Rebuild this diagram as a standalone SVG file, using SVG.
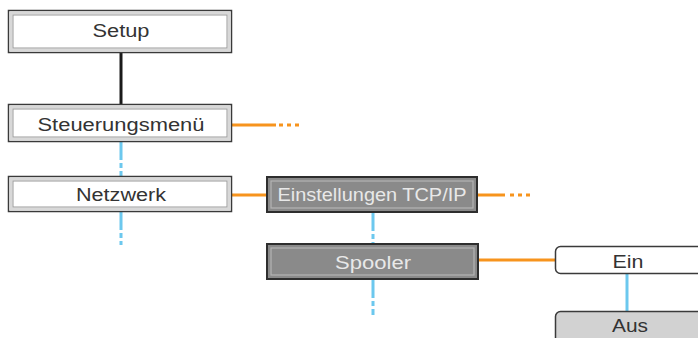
<svg xmlns="http://www.w3.org/2000/svg" width="698" height="338" viewBox="0 0 698 338">
<style>
.lt-o{fill:#ffffff;stroke:#3a3a3a;stroke-width:1.5}
.lt-band{fill:none;stroke:#d8d8d8;stroke-width:3}
.lt-i{fill:#ffffff;stroke:#9a9a9a;stroke-width:1}
.dk-o{fill:#8a8a8a;stroke:#2e2e2e;stroke-width:2}
.dk-i{fill:none;stroke:#b4b4b4;stroke-width:1.2}
.t{font-family:"Liberation Sans",Arial,sans-serif;font-size:18px;text-anchor:middle}
.tl{fill:#333333}
.td{fill:#e8e8e8}
.or{stroke:#f7941d;stroke-width:3;fill:none}
.bl{stroke:#6cc8ee;stroke-width:3;fill:none}
.dots{fill:#f7941d}
</style>
<g id="connectors">
<line x1="121" y1="52" x2="121" y2="104" stroke="#1a1a1a" stroke-width="3"/>
<line class="or" x1="232" y1="125" x2="276" y2="125"/>
<rect class="dots" x="279" y="123.5" width="4" height="3"/>
<rect class="dots" x="287" y="123.5" width="4" height="3"/>
<rect class="dots" x="295" y="123.5" width="4" height="3"/>
<path class="bl" d="M121 142 V160 M121 163 V168 M121 171 V176"/>
<path class="bl" d="M121 212 V230 M121 233 V238 M121 241 V245"/>
<line class="or" x1="232" y1="195" x2="267" y2="195"/>
<line class="or" x1="477" y1="195" x2="505" y2="195"/>
<rect class="dots" x="510" y="193.5" width="4" height="3"/>
<rect class="dots" x="518" y="193.5" width="4" height="3"/>
<rect class="dots" x="526" y="193.5" width="4" height="3"/>
<path class="bl" d="M373 213 V231 M373 234 V239 M373 242 V244"/>
<path class="bl" d="M373 280 V298 M373 301 V306 M373 309 V315"/>
<line class="or" x1="478" y1="260" x2="556" y2="260"/>
<line class="bl" x1="627" y1="274" x2="627" y2="311"/>
</g>
<g id="setup">
<rect class="lt-o" x="8.5" y="10.5" width="223" height="42"/>
<rect class="lt-band" x="11" y="13" width="218" height="37"/>
<rect class="lt-i" x="13" y="15" width="214" height="33"/>
<text class="t tl" x="121" y="37" textLength="57" lengthAdjust="spacingAndGlyphs">Setup</text>
</g>
<g id="steuerungsmenue">
<rect class="lt-o" x="8.5" y="104.5" width="223" height="37"/>
<rect class="lt-band" x="11" y="107" width="218" height="32"/>
<rect class="lt-i" x="13" y="109" width="214" height="28"/>
<text class="t tl" x="121" y="131" textLength="167" lengthAdjust="spacingAndGlyphs">Steuerungsmenü</text>
</g>
<g id="netzwerk">
<rect class="lt-o" x="8.5" y="176.5" width="223" height="35"/>
<rect class="lt-band" x="11" y="179" width="218" height="30"/>
<rect class="lt-i" x="13" y="181" width="214" height="26"/>
<text class="t tl" x="121" y="201" textLength="90" lengthAdjust="spacingAndGlyphs">Netzwerk</text>
</g>
<g id="tcpip">
<rect class="dk-o" x="267" y="177" width="210" height="35"/>
<rect class="dk-i" x="271" y="181" width="202" height="27"/>
<text class="t td" x="372" y="201" textLength="189" lengthAdjust="spacingAndGlyphs">Einstellungen TCP/IP</text>
</g>
<g id="spooler">
<rect class="dk-o" x="267" y="244" width="211" height="35"/>
<rect class="dk-i" x="271" y="248" width="203" height="27"/>
<text class="t td" x="373" y="269" textLength="76" lengthAdjust="spacingAndGlyphs">Spooler</text>
</g>
<g id="ein">
<rect x="555.5" y="246.5" width="150" height="27" rx="5" fill="#ffffff" stroke="#3a3a3a" stroke-width="1.5"/>
<text class="t tl" x="628" y="268" textLength="31" lengthAdjust="spacingAndGlyphs">Ein</text>
</g>
<g id="aus">
<rect x="555.5" y="311.5" width="150" height="35" rx="5" fill="#d2d2d2" stroke="#3a3a3a" stroke-width="1.5"/>
<text class="t tl" x="630" y="332" textLength="36" lengthAdjust="spacingAndGlyphs">Aus</text>
</g>
</svg>
